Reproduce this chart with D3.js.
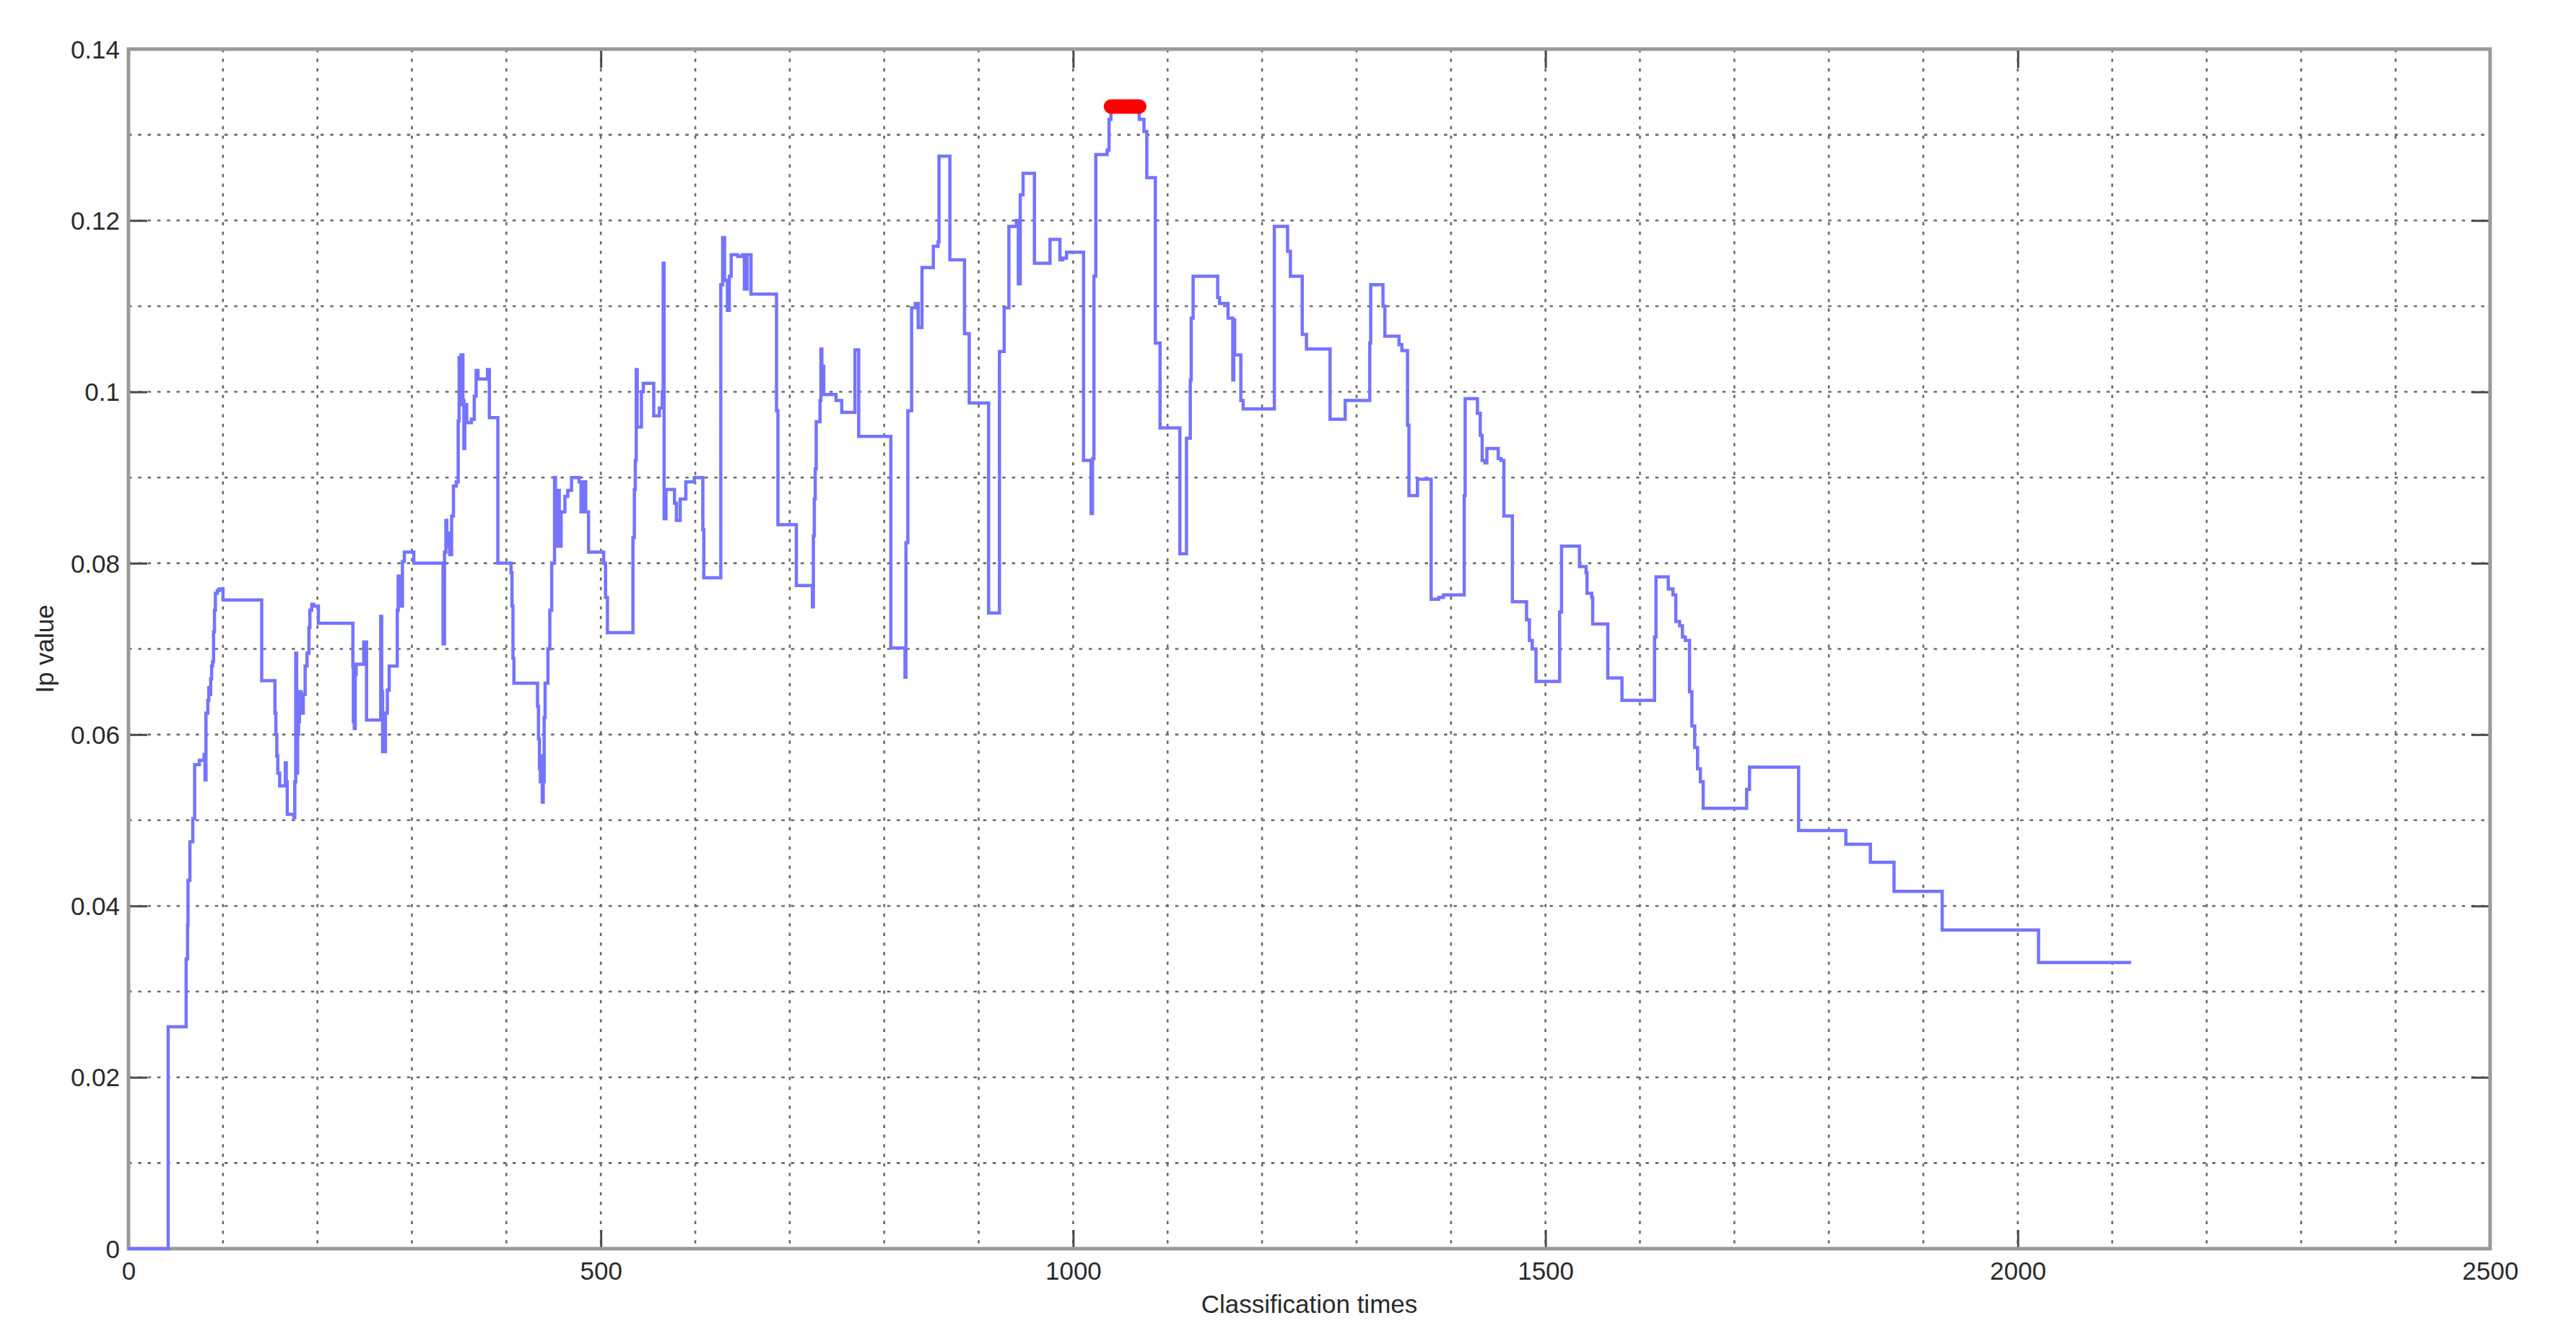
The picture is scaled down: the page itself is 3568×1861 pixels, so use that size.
<!DOCTYPE html>
<html>
<head>
<meta charset="utf-8">
<script src="https://cdn.jsdelivr.net/npm/d3@7"></script>
<style>
html,body{margin:0;padding:0;background:#fff;}
svg{display:block;}
</style>
</head>
<body>
<svg id="chart" width="3568" height="1861"></svg>
<script>
// ---- data ----
const stepX = [0,42,61,62.5,63,65,68,70,75,80,81,82,84,85,86,87,88,89,90,91,92,94,96,100,141,155,156,157,158,160,166,167,168,175,176,177,178,179,180,181,183,185,187,189,191,192,194,196,201,237.5,238,239,240,241,249,252,267,268,269,272,274,276,284.5,285.5,287,289,290,292,302,333,334.5,336,337,338,340,342,344,347,349,350,351,352,354,355,356,358,363,366,368,370,380,382,391,405,406,407,408,433,434,435,436,437,438,439,440,441,444,446,448,451,452,454,456,458,462,465,469,477,479,481,484,487,503,505,507,534,535.5,536.5,537.5,538.5,543,545,556,562,565,566,567,569,578,580,584,590,599,608,609,627,629,631,634,636,638,645,650,652,655,659,686,687.5,707,724,725,726,727,728,732,733,734,736,749,755,769,773,807,822,823,825,829,833,836,840,852,857,858,869.5,885,890,910.5,922,927,932,940,942,944,947,959,975.5,986,989,993,1011,1019,1020.5,1022,1024,1036,1038,1040,1070,1075,1078,1087,1092,1113,1120,1124,1125,1127,1153,1155,1164,1169,1170,1171,1177.5,1180,1213,1227,1230,1242.5,1247,1272,1288,1314,1315,1328,1330,1345,1348,1354,1355.5,1364.5,1379,1387,1392,1414,1415,1428,1431,1433,1436,1438,1450,1453,1456,1465,1480,1483,1486,1490,1515,1517,1536,1543,1544,1549,1550,1566,1581,1615.5,1617,1630,1635,1638,1642,1645,1648,1652.5,1655,1658,1661,1664,1667,1713,1716,1768,1818,1844,1869,1920,2022,2120];
const stepY = [0,0.0259,0.0338,0.0378,0.043,0.0475,0.0502,0.0565,0.057,0.0577,0.0547,0.0625,0.064,0.0655,0.0647,0.0665,0.068,0.0685,0.072,0.0745,0.0765,0.0768,0.077,0.0757,0.0663,0.0625,0.06,0.0575,0.0555,0.054,0.0567,0.0545,0.0507,0.0503,0.0545,0.0695,0.0555,0.06,0.0615,0.065,0.0625,0.0647,0.068,0.0695,0.0725,0.0745,0.0752,0.075,0.073,0.068,0.0615,0.0607,0.067,0.0682,0.0708,0.0617,0.0738,0.065,0.058,0.0625,0.0652,0.068,0.0745,0.0785,0.0755,0.075,0.0802,0.0813,0.080,0.0706,0.0813,0.085,0.082,0.0835,0.081,0.0855,0.089,0.0895,0.0966,0.104,0.0985,0.1043,0.099,0.0934,0.0985,0.0964,0.0968,0.0995,0.1025,0.1015,0.1026,0.097,0.08,0.0789,0.075,0.0689,0.066,0.0633,0.0595,0.056,0.0545,0.0575,0.0521,0.0545,0.062,0.066,0.07,0.0745,0.08,0.09,0.082,0.0885,0.082,0.086,0.0878,0.0885,0.09,0.0895,0.086,0.0895,0.086,0.0813,0.08,0.076,0.0719,0.083,0.0886,0.092,0.1026,0.0959,0.1,0.101,0.0972,0.0981,0.1,0.115,0.0852,0.0886,0.087,0.085,0.0875,0.0895,0.09,0.0839,0.0783,0.1125,0.118,0.113,0.1095,0.1135,0.116,0.1158,0.116,0.112,0.116,0.1114,0.0978,0.0845,0.0774,0.0749,0.0832,0.0875,0.091,0.0965,0.099,0.105,0.103,0.0997,0.099,0.0976,0.1049,0.0948,0.0701,0.0667,0.0824,0.0978,0.1098,0.1103,0.1075,0.1145,0.117,0.1175,0.1275,0.1154,0.1068,0.0987,0.0742,0.1047,0.1098,0.1193,0.12,0.1126,0.123,0.1255,0.115,0.1178,0.1154,0.1156,0.1163,0.092,0.0858,0.0922,0.1135,0.1277,0.1282,0.1318,0.1333,0.1318,0.1304,0.125,0.1057,0.0958,0.0811,0.0946,0.1014,0.1086,0.1135,0.111,0.1103,0.1086,0.1014,0.1084,0.1043,0.099,0.098,0.1193,0.1164,0.1135,0.1067,0.105,0.0968,0.099,0.1057,0.1125,0.11,0.1065,0.1055,0.1048,0.0961,0.0879,0.0898,0.0758,0.076,0.0763,0.0879,0.0992,0.0975,0.0949,0.092,0.0917,0.0934,0.0922,0.092,0.0855,0.0755,0.0734,0.071,0.07,0.0662,0.0743,0.082,0.0796,0.0789,0.0765,0.076,0.0729,0.0666,0.064,0.0714,0.0784,0.077,0.0763,0.0732,0.0727,0.0714,0.071,0.065,0.061,0.0585,0.056,0.0545,0.0514,0.0536,0.0562,0.0488,0.0472,0.0451,0.0417,0.0372,0.0334,0.0334];
const peakX = [1040, 1070];
const peakY = [0.1333, 0.1333];
const xTicks = [0, 500, 1000, 1500, 2000, 2500];
const xTickLabels = ["0", "500", "1000", "1500", "2000", "2500"];
const yTicks = [0, 0.02, 0.04, 0.06, 0.08, 0.1, 0.12, 0.14];
const yTickLabels = ["0", "0.02", "0.04", "0.06", "0.08", "0.1", "0.12", "0.14"];
const xGrid = d3.range(100, 2500, 100);
const yGrid = d3.range(1, 14).map(d => d / 100);
const xTitle = "Classification times";
const yTitle = "Ip value";

// ---- layout ----
const L = 178, R = 3449, T = 68, B = 1729;
const svg = d3.select("#chart");
const x = d3.scaleLinear().domain([0, 2500]).range([L, R]);
const y = d3.scaleLinear().domain([0, 0.14]).range([B, T]);
const font = "'Liberation Sans', Arial, Helvetica, sans-serif";

svg.append("rect").attr("width", 3568).attr("height", 1861).attr("fill", "#fff");

// grid (dotted)
const grid = svg.append("g").attr("stroke", "#6a6a6a").attr("stroke-width", 2.6)
  .attr("stroke-dasharray", "4.5 8.8").attr("fill", "none");
grid.selectAll(".gx").data(xGrid).join("line")
  .attr("x1", d => x(d)).attr("x2", d => x(d)).attr("y1", T).attr("y2", B);
grid.selectAll(".gy").data(yGrid).join("line")
  .attr("x1", L).attr("x2", R).attr("y1", d => y(d)).attr("y2", d => y(d));

// axes with inward ticks
const tickLen = 26;
const axB = svg.append("g").attr("transform", `translate(0,${B})`)
  .call(d3.axisBottom(x).tickValues(xTicks).tickSizeInner(-tickLen).tickSizeOuter(0).tickPadding(18)
    .tickFormat((d, i) => xTickLabels[i]));
const axT = svg.append("g").attr("transform", `translate(0,${T})`)
  .call(d3.axisTop(x).tickValues(xTicks).tickSizeInner(-tickLen).tickSizeOuter(0).tickFormat(""));
const axL = svg.append("g").attr("transform", `translate(${L},0)`)
  .call(d3.axisLeft(y).tickValues(yTicks).tickSizeInner(-tickLen).tickSizeOuter(0).tickPadding(12)
    .tickFormat((d, i) => yTickLabels[i]));
const axR = svg.append("g").attr("transform", `translate(${R},0)`)
  .call(d3.axisRight(y).tickValues(yTicks).tickSizeInner(-tickLen).tickSizeOuter(0).tickFormat(""));
[axB, axT, axL, axR].forEach(a => {
  a.select(".domain").remove();
  a.selectAll(".tick line").attr("stroke", "#4a4a4a").attr("stroke-width", 3);
  a.selectAll(".tick text").attr("font-family", font).attr("font-size", 35).attr("fill", "#2a2a2a");
});
axB.selectAll(".tick text").attr("dy", "0.71em");
axL.selectAll(".tick text").attr("dy", "0.35em");

// frame
svg.append("rect").attr("x", L).attr("y", T).attr("width", R - L).attr("height", B - T)
  .attr("fill", "none").attr("stroke", "#9a9a9a").attr("stroke-width", 5);

// series line
const pts = stepX.map((d, i) => [d, stepY[i]]);
const line = d3.line().x(d => x(d[0])).y(d => y(d[1])).curve(d3.curveStepAfter);
svg.append("path").datum(pts).attr("d", line)
  .attr("fill", "none").attr("stroke", "#7474ff").attr("stroke-width", 4.5)
  .attr("stroke-linejoin", "miter");

// peak marker (red)
const peak = peakX.map((d, i) => [d, peakY[i]]);
svg.append("path").datum(peak)
  .attr("d", d3.line().x(d => x(d[0])).y(d => y(d[1])))
  .attr("fill", "none").attr("stroke", "#ff0000").attr("stroke-width", 20)
  .attr("stroke-linecap", "round");

// titles
svg.append("text").attr("x", (L + R) / 2).attr("y", 1818).attr("text-anchor", "middle")
  .attr("font-family", font).attr("font-size", 35).attr("fill", "#2a2a2a").text(xTitle);
svg.append("text").attr("transform", `translate(74,${(T + B) / 2}) rotate(-90)`)
  .attr("text-anchor", "middle").attr("font-family", font).attr("font-size", 35)
  .attr("fill", "#2a2a2a").text(yTitle);
</script>
</body>
</html>
